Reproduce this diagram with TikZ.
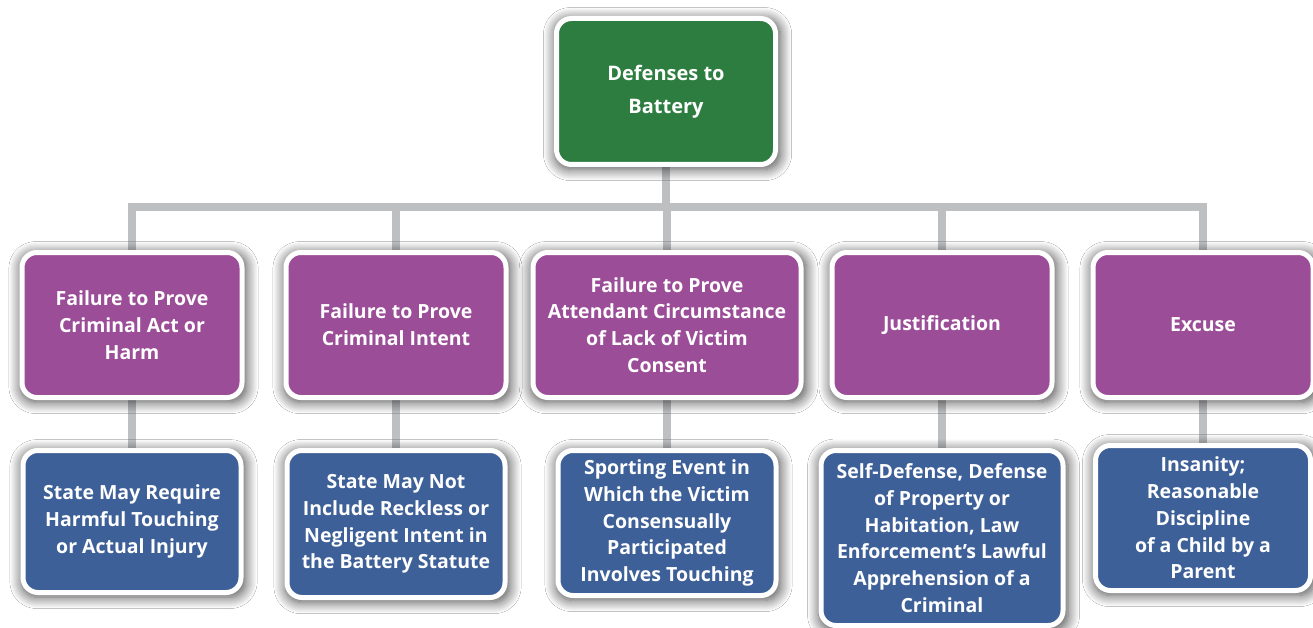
\documentclass[tikz,border=0pt]{standalone}
\usepackage{fontspec}
\setmainfont{Open Sans}
\usetikzlibrary{positioning,backgrounds,shadows.blur}
\definecolor{rootgreen}{RGB}{45,125,64}
\definecolor{catpurple}{RGB}{155,77,152}
\definecolor{itemblue}{RGB}{62,96,152}
\definecolor{linkgray}{RGB}{190,191,193}

\tikzset{
  box/.style={draw=white, line width=5pt, rounded corners=15pt, align=center, text=white,
    font=\fontsize{19.5}{26.7}\selectfont\bfseries,
    blur shadow={shadow xshift=1.5pt, shadow yshift=-2.5pt, shadow scale=1.03,
      shadow blur radius=11pt, shadow blur steps=12, shadow opacity=70}},
  rootbox/.style={box, fill=rootgreen, minimum width=219pt, minimum height=146pt,
    font=\fontsize{20}{33}\selectfont\bfseries},
  catbox/.style={box, fill=catpurple, minimum width=220pt, minimum height=145pt},
  itembox/.style={box, fill=itemblue, minimum width=218pt, minimum height=142pt},
  link/.style={draw=linkgray, line width=8pt}
}

\begin{document}
\begin{tikzpicture}[x=1pt, y=1pt]
  \useasboundingbox (0,0) rectangle (1313,-628);

  % root
  \node[rootbox] (root) at (666,-91.5) {Defenses to\\Battery};

  % categories
  \node[catbox] (harm) at (132,-325) {Failure to Prove\\Criminal Act or\\Harm};
  \node[catbox] (intent) at (396,-325) {Failure to Prove\\Criminal Intent};
  \node[catbox, minimum width=268pt] (consent) at (667,-325) {Failure to Prove\\Attendant Circumstance\\of Lack of Victim\\Consent};
  \node[catbox] (justif) at (942,-325) {Justification};
  \node[catbox] (excuse) at (1203,-325) {Excuse};

  % examples
  \node[itembox, below=48pt of harm] (harmex) {State May Require\\Harmful Touching\\or Actual Injury};
  \node[itembox, below=48pt of intent, minimum height=147pt] (intentex) {State May Not\\Include Reckless or\\Negligent Intent in\\the Battery Statute};
  \node[itembox, below=48pt of consent, minimum height=145pt] (consentex) {Sporting Event in\\Which the Victim\\Consensually\\Participated\\Involves Touching};
  \node[itembox, below=48pt of justif, minimum width=242pt, minimum height=175pt] (justifex) {Self-Defense, Defense\\of Property or\\Habitation, Law\\Enforcement’s Lawful\\Apprehension of a\\Criminal};
  \node[itembox, below=43pt of excuse, minimum width=215pt, minimum height=145pt] (excuseex) {Insanity;\\Reasonable\\Discipline\\of a Child by a\\Parent};

  \begin{scope}[on background layer]
    \fill[white] (0,0) rectangle (1313,-628);
    \foreach \c in {harm, intent, consent, justif, excuse}
      \draw[link] (root.south) -- ++(0,-40) -| (\c.north);
    \draw[link] (harm.south) -- (harmex.north);
    \draw[link] (intent.south) -- (intentex.north);
    \draw[link] (consent.south) -- (consentex.north);
    \draw[link] (justif.south) -- (justifex.north);
    \draw[link] (excuse.south) -- (excuseex.north);
  \end{scope}
\end{tikzpicture}
\end{document}
